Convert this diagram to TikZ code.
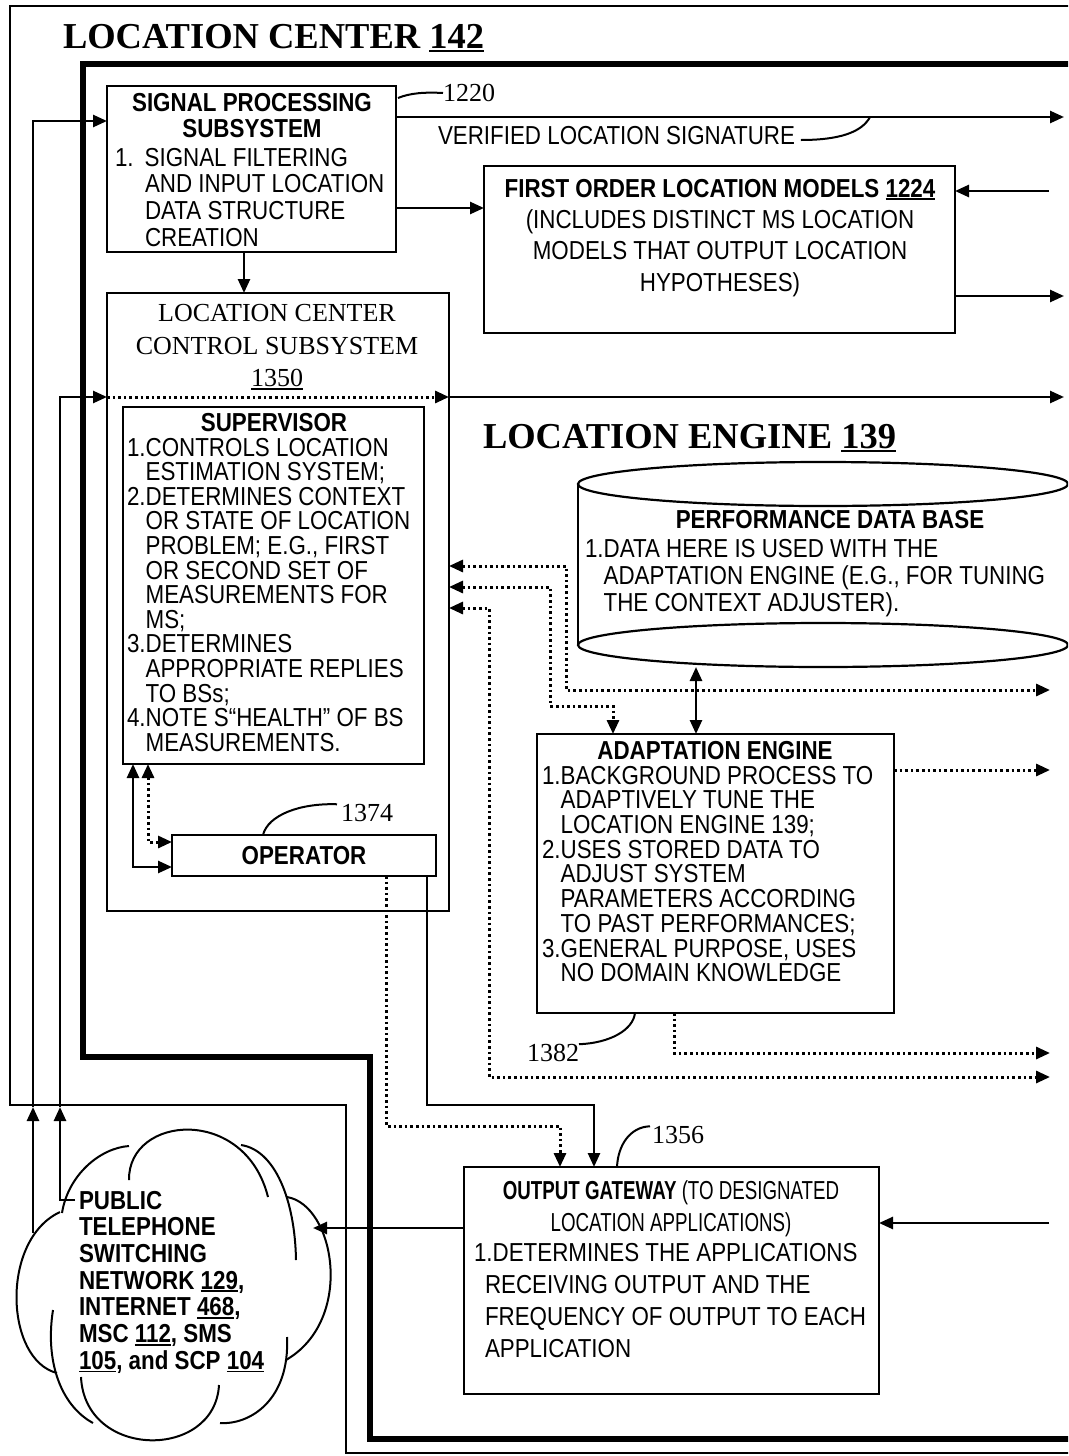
\documentclass[tikz,border=0pt]{standalone}
\usepackage{fontspec}
\setmainfont{Liberation Serif}
\newfontfamily\nsf[FakeStretch=0.86]{Liberation Sans}
\newfontfamily\ogf[FakeStretch=0.72]{Liberation Sans}
\usetikzlibrary{arrows.meta}
\newcommand{\myul}[2]{\setbox0=\hbox{#2}\rlap{\rule[-#1]{\wd0}{1.8pt}}\box0}
\newcommand{\sansat}[1]{\nsf\fontsize{26}{#1}\selectfont}
\newcommand{\serifat}[2]{\fontsize{#1}{#2}\selectfont}
\tikzset{
  ln/.style={line width=2.6pt},
  thk/.style={line width=6pt},
  cl/.style={line width=2pt},
  dots/.style={line width=3pt, dash pattern=on 2.6pt off 3pt},
  tip/.style={-{Triangle[length=14pt,width=12pt]}},
  tips/.style={{Triangle[length=14pt,width=12pt]}-{Triangle[length=14pt,width=12pt]}},
  box/.style={draw, line width=2.6pt, anchor=north west, inner sep=0pt, outer sep=0pt},
  txt/.style={inner sep=0pt, outer sep=0pt},
  lbl/.style={inner sep=0pt, outer sep=0pt, font=\serifat{26}{30}},
  ttl/.style={inner sep=0pt, outer sep=0pt, font=\bfseries\serifat{36.5}{40}},
}
\begin{document}
\begin{tikzpicture}[x=1pt,y=-1pt]
\useasboundingbox (0,0) rectangle (1068,1456);
\clip (0,0) rectangle (1068,1456);

% frames
\draw[line width=2.8pt] (1075,6) -- (10,6) -- (10,1105) -- (346,1105) -- (346,1453) -- (1075,1453);
\draw[thk] (1075,64) -- (83,64) -- (83,1057) -- (370,1057) -- (370,1439) -- (1075,1439);

% titles
\node[ttl, anchor=base west] (lcTitle) at (63,48) {LOCATION CENTER \myul{4pt}{142}};
\node[ttl, anchor=base west] (leTitle) at (483,448) {LOCATION ENGINE \myul{4pt}{139}};

% boxes
\node[box, minimum width=289pt, minimum height=166pt] (sps) at (107,86) {};
\node[box, minimum width=471pt, minimum height=167pt] (folm) at (484,166) {};
\node[box, minimum width=342pt, minimum height=618pt] (lccs) at (107,293) {};
\node[box, minimum width=301pt, minimum height=357pt] (sup) at (123,407) {};
\node[box, minimum width=264pt, minimum height=41pt, font=\sansat{25}\bfseries] (op) at (172,835) {OPERATOR};
\node[box, minimum width=357pt, minimum height=279pt] (ae) at (537,734) {};
\node[box, minimum width=415pt, minimum height=227pt] (og) at (464,1167) {};

% cylinder (performance data base)
\draw[line width=2.2pt] (823,484) ellipse (245 and 22);
\draw[line width=2.2pt] (823,645) ellipse (245 and 22);
\draw[line width=2.2pt] (578,484) -- (578,645);
\coordinate (pdbB) at (696,667);

% texts
\node[txt, anchor=north, align=center, font=\sansat{26.5}\bfseries] (spsT) at (252,93) {SIGNAL PROCESSING\\SUBSYSTEM};
\node[txt, anchor=north west, align=left, font=\sansat{26.7}] (spsL) at (115,148) {1.\hspace{11pt}SIGNAL FILTERING\\\hspace*{30pt}AND INPUT LOCATION\\\hspace*{30pt}DATA STRUCTURE\\\hspace*{30pt}CREATION};

\node[txt, anchor=north, align=center, font=\sansat{31.3}] (folmT) at (720,179) {\textbf{FIRST ORDER LOCATION MODELS \myul{3pt}{1224}}\\(INCLUDES DISTINCT MS LOCATION\\MODELS THAT OUTPUT LOCATION\\HYPOTHESES)};

\node[txt, anchor=west, font=\sansat{26}] (ver) at (438,136) {VERIFIED LOCATION SIGNATURE};

\node[txt, anchor=north, align=center, font=\serifat{26}{32.5}] (lccsT) at (277,304.5) {LOCATION CENTER\\CONTROL SUBSYSTEM\\\myul{3pt}{1350}};

\node[txt, anchor=north, font=\sansat{25}\bfseries] (supT) at (274,413) {SUPERVISOR};
\node[txt, anchor=north west, align=left, font=\sansat{24.6}] (supL) at (127,438) {1.CONTROLS LOCATION\\\hphantom{1.}ESTIMATION SYSTEM;\\2.DETERMINES CONTEXT\\\hphantom{2.}OR STATE OF LOCATION\\\hphantom{2.}PROBLEM; E.G., FIRST\\\hphantom{2.}OR SECOND SET OF\\\hphantom{2.}MEASUREMENTS FOR\\\hphantom{2.}MS;\\3.DETERMINES\\\hphantom{3.}APPROPRIATE REPLIES\\\hphantom{3.}TO BSs;\\4.NOTE S“HEALTH” OF BS\\\hphantom{4.}MEASUREMENTS.};

\node[txt, font=\sansat{27}\bfseries] (pdbT) at (830,520) {PERFORMANCE DATA BASE};
\node[txt, anchor=north west, align=left, font=\sansat{27}] (pdbL) at (585,539) {1.DATA HERE IS USED WITH THE\\\hphantom{1.}ADAPTATION ENGINE (E.G., FOR TUNING\\\hphantom{1.}THE CONTEXT ADJUSTER).};

\node[txt, anchor=north, font=\sansat{25}\bfseries] (aeT) at (715,741) {ADAPTATION ENGINE};
\node[txt, anchor=north west, align=left, font=\sansat{24.7}] (aeL) at (542,766) {1.BACKGROUND PROCESS TO\\\hphantom{1.}ADAPTIVELY TUNE THE\\\hphantom{1.}LOCATION ENGINE 139;\\2.USES STORED DATA TO\\\hphantom{2.}ADJUST SYSTEM\\\hphantom{2.}PARAMETERS ACCORDING\\\hphantom{2.}TO PAST PERFORMANCES;\\3.GENERAL PURPOSE, USES\\\hphantom{3.}NO DOMAIN KNOWLEDGE};

\node[txt, anchor=north, align=center, font=\ogf\fontsize{26}{32}\selectfont] (ogT) at (671,1181) {\textbf{OUTPUT GATEWAY} (TO DESIGNATED\\LOCATION APPLICATIONS)};
\node[txt, anchor=north west, align=left, font=\sansat{32}] (ogL) at (474,1243) {1.DETERMINES THE APPLICATIONS\\\hspace*{11pt}RECEIVING OUTPUT AND THE\\\hspace*{11pt}FREQUENCY OF OUTPUT TO EACH\\\hspace*{11pt}APPLICATION};

\node[txt, anchor=north west, align=left, font=\sansat{26.7}\bfseries] (pstn) at (79,1191) {PUBLIC\\TELEPHONE\\SWITCHING\\NETWORK \myul{3pt}{129},\\INTERNET \myul{3pt}{468},\\MSC \myul{3pt}{112}, SMS\\\myul{3pt}{105}, and SCP \myul{3pt}{104}};

% reference labels
\node[lbl, anchor=west] (l1220) at (443,93) {1220};
\node[lbl, anchor=west] (l1374) at (341,813) {1374};
\node[lbl, anchor=west] (l1382) at (527,1053) {1382};
\node[lbl, anchor=west] (l1356) at (652,1135) {1356};

% leaders
\coordinate (verTip) at (870,117);
\draw[cl] ([shift={(2,12)}]sps.north east) .. controls (410,93) and (425,92) .. (l1220.west);
\draw[cl] ([shift={(6,4)}]ver.east) .. controls (840,140) and (862,132) .. (verTip);
\draw[cl] ([xshift=91pt]op.north west) .. controls (268,815) and (300,803) .. ([xshift=-4pt]l1374.north west);
\draw[cl] ([xshift=98pt]ae.south west) .. controls (633,1030) and (610,1043) .. (l1382.north east);
\draw[cl] ([xshift=153pt]og.north west) .. controls (618,1145) and (630,1127) .. ([xshift=-2pt]l1356.north west);

% cloud
\draw[cl] (129,1146) .. controls (100,1148) and (68,1175) .. (62,1213);
\draw[cl] (129,1180) .. controls (128,1115) and (245,1105) .. (268,1197);
\draw[cl] (241,1145) .. controls (275,1150) and (295,1200) .. (296,1260);
\draw[cl] (287,1197) .. controls (335,1205) and (355,1320) .. (286,1360);
\draw[cl] (287,1337) .. controls (290,1400) and (250,1425) .. (220,1423);
\draw[cl] (219,1385) .. controls (215,1460) and (85,1460) .. (81,1377);
\draw[cl] (93,1423) .. controls (60,1405) and (45,1360) .. (53,1310);
\draw[cl] (57,1373) .. controls (5,1360) and (0,1240) .. (60,1212);

% coordinates of free ends
\coordinate (pA) at (33,1233);
\coordinate (pB) at (75,1200);
\coordinate (pBc) at (60,1200);
\coordinate (xA) at (33,1107);
\coordinate (xB) at (60,1107);
\coordinate (cloudE) at (313,1228);
\coordinate (e117) at (1064,117);
\coordinate (e191) at (1049,191);
\coordinate (e296) at (1064,296);
\coordinate (e397) at (1064,397);
\coordinate (e1223) at (1049,1223);
\coordinate (d690) at (1050,690);
\coordinate (d770) at (1050,770);
\coordinate (d1053) at (1050,1053);
\coordinate (d1077) at (1050,1077);
\coordinate (k1) at (566,690);
\coordinate (k2) at (550,706);
\coordinate (k3) at (489,1077);

% solid connectors
\draw[ln, tip] (pA) -- (xA);
\draw[ln, tip] (xA) |- ([yshift=-35pt]sps.north west);
\draw[ln, tip] (pB) -- (pBc) -- (xB);
\draw[ln, tip] (xB) |- ([yshift=-104pt]lccs.north west);
\draw[dots, tip] ([yshift=-104pt]lccs.north west) -- ([yshift=-104pt]lccs.north east);
\draw[ln, tip] ([yshift=-104pt]lccs.north east) -- (e397);
\draw[ln, tip] ([yshift=-31pt]sps.north east) -- (e117);
\draw[ln, tip] ([yshift=-122pt]sps.north east) -- ([yshift=-42pt]folm.north west);
\draw[ln, tip] (e191) -- ([yshift=-25pt]folm.north east);
\draw[ln, tip] ([yshift=-130pt]folm.north east) -- (e296);
\draw[ln, tip] ([xshift=137pt]sps.south west) -- ([xshift=137pt]lccs.north west);
\draw[ln, tips] ([xshift=10pt]sup.south west) |- ([yshift=-32pt]op.north west);
\draw[dots, tips] ([xshift=25pt]sup.south west) |- ([yshift=-7pt]op.north west);
\draw[dots, tip] ([xshift=214pt]op.south west) |- ([shift={(96,-41)}]og.north west) -- ([xshift=96pt]og.north west);
\draw[ln, tip] ([xshift=-9pt]op.south east) |- ([shift={(130,-62)}]og.north west) -- ([xshift=130pt]og.north west);
\draw[ln, tip] ([yshift=-61pt]og.north west) -- (cloudE);
\draw[ln, tip] (e1223) -- ([yshift=-56pt]og.north east);
\draw[ln, tips] (pdbB) -- (pdbB |- ae.north);

% dotted connectors
\draw[dots, tips] ([yshift=-273pt]lccs.north east) -| (k1) -- (d690);
\draw[dots, tips] ([yshift=-294pt]lccs.north east) -| (k2) -| ([xshift=76pt]ae.north west);
\draw[dots, tips] ([yshift=-315pt]lccs.north east) -| (k3) -- (d1077);
\draw[dots, tip] ([yshift=-36pt]ae.north east) -- (d770);
\draw[dots, tip] ([xshift=137pt]ae.south west) |- (d1053);
\end{tikzpicture}
\end{document}
